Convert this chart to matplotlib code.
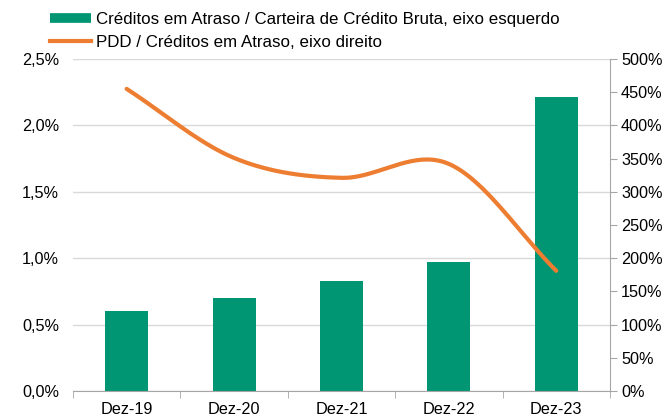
import numpy as np
import matplotlib.pyplot as plt
from matplotlib.lines import Line2D
from matplotlib.ticker import FuncFormatter, MultipleLocator, FixedLocator

plt.rcParams['font.family'] = ['Liberation Sans', 'DejaVu Sans']

# data
categorias = ['Dez-19', 'Dez-20', 'Dez-21', 'Dez-22', 'Dez-23']
atraso_carteira = [0.60, 0.70, 0.83, 0.97, 2.21]     # % eixo esquerdo
pdd_atraso = [455, 351, 321, 342, 181]               # % eixo direito

verde = '#009673'
laranja = '#ED7D31'
cinza = '#A6A6A6'


def catmull_rom(y, n=60):
    # suavização tipo Excel entre os pontos
    y = np.asarray(y, dtype=float)
    p = np.concatenate([[2 * y[0] - y[1]], y, [2 * y[-1] - y[-2]]])
    xs, ys = [], []
    for i in range(len(y) - 1):
        t = np.linspace(0, 1, n, endpoint=(i == len(y) - 2))
        m0 = (p[i + 2] - p[i]) / 2
        m1 = (p[i + 3] - p[i + 1]) / 2
        h00 = 2 * t**3 - 3 * t**2 + 1
        h10 = t**3 - 2 * t**2 + t
        h01 = -2 * t**3 + 3 * t**2
        h11 = t**3 - t**2
        ys.append(h00 * p[i + 1] + h10 * m0 + h01 * p[i + 2] + h11 * m1)
        xs.append(i + t)
    return np.concatenate(xs), np.concatenate(ys)


fig = plt.figure(figsize=(6.63, 4.18), dpi=100)
ax = fig.add_axes([0.110, 0.0646, 0.810, 0.7943])
x = np.arange(len(categorias))

ax.bar(x, atraso_carteira, width=0.40, color=verde, zorder=2)
ax.set_xlim(-0.5, len(categorias) - 0.5)
ax.set_ylim(0, 2.5)
ax.yaxis.set_major_locator(MultipleLocator(0.5))
ax.yaxis.set_major_formatter(FuncFormatter(lambda v, p: f'{v:.1f}%'.replace('.', ',')))
ax.grid(axis='y', color='#D9D9D9', linewidth=1, zorder=0)
ax.set_axisbelow(True)
ax.tick_params(axis='y', length=0, labelsize=11.7, pad=10)
ax.set_xticks(x)
ax.set_xticklabels(categorias, fontsize=11.7)
ax.xaxis.set_minor_locator(FixedLocator(np.arange(-0.5, len(categorias), 1)))
ax.tick_params(axis='x', which='major', length=0, pad=8)
ax.tick_params(axis='x', which='minor', length=5, color=cinza, direction='out')
for s in ['top', 'right', 'left']:
    ax.spines[s].set_visible(False)
ax.spines['bottom'].set_color(cinza)

ax2 = ax.twinx()
xs, ys = catmull_rom(pdd_atraso)
ax2.plot(xs, ys, color=laranja, linewidth=3, solid_capstyle='round', zorder=3)
ax2.set_ylim(0, 500)
ax2.yaxis.set_major_locator(MultipleLocator(50))
ax2.yaxis.set_major_formatter(FuncFormatter(lambda v, p: f'{v:.0f}%'))
ax2.tick_params(axis='y', length=5, color=cinza, labelsize=11.7, pad=3)
for s in ['top', 'left', 'bottom']:
    ax2.spines[s].set_visible(False)
ax2.spines['right'].set_color(cinza)

handles = [
    Line2D([], [], color=verde, linewidth=7, solid_capstyle='butt'),
    Line2D([], [], color=laranja, linewidth=3),
]
labels = ['Créditos em Atraso / Carteira de Crédito Bruta, eixo esquerdo',
          'PDD / Créditos em Atraso, eixo direito']
fig.legend(handles, labels, loc='upper left', bbox_to_anchor=(0.053, 1.008),
           frameon=False, fontsize=12.2, handlelength=2.4, handletextpad=0.3,
           labelspacing=0.5)

fig.savefig('out.png', dpi=100)
